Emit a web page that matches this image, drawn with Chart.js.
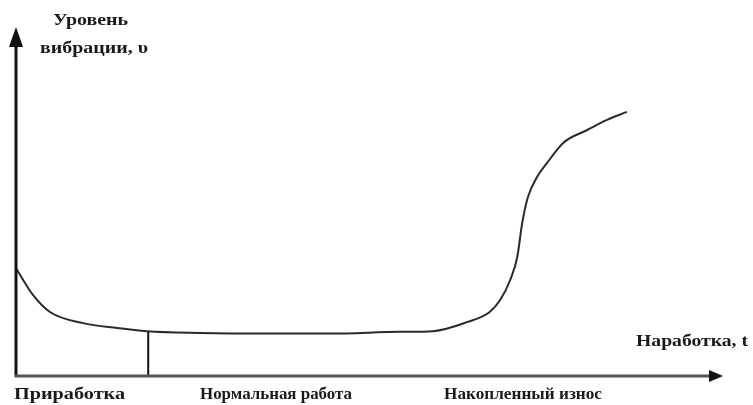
<!DOCTYPE html>
<html><head><meta charset="utf-8">
<script src="https://cdn.jsdelivr.net/npm/chart.js@4/dist/chart.umd.min.js"></script>
<style>html,body{margin:0;padding:0;background:#fff;}canvas{display:block;}</style>
</head><body>
<canvas id="c" width="753" height="405"></canvas>
<script>
// Operating time t (relative units) and vibration level v (relative units)
const timeValues = [0, 2.4, 4.8, 9.5, 14.3, 18.5, 26.0, 34.5, 44.4, 54.3, 59.0, 63.8, 67.0, 68.5, 69.9, 70.9, 71.6, 72.4, 73.7, 75.1, 77.4, 80.8, 83.6, 86.4];
const vibrationValues = [30.7, 23.0, 18.1, 14.9, 13.5, 12.6, 12.1, 11.9, 11.9, 12.4, 12.6, 15.2, 18.1, 21.6, 27.3, 33.9, 43.7, 51.1, 56.9, 60.9, 66.7, 70.4, 73.3, 75.6];
const runInEnd = 18.7;
const yAxisTitle = ["Уровень", "вибрации, υ"];
const xAxisTitle = "Наработка, t";
const phaseLabels = ["Приработка", "Нормальная работа", "Накопленный износ"];

const FONT = "bold 17px 'Liberation Serif', 'DejaVu Serif', serif";
function fitText(ctx, txt, x, yMid, w) {
  ctx.save();
  ctx.font = FONT;
  ctx.textBaseline = 'middle';
  ctx.textAlign = 'left';
  const m = ctx.measureText(txt).width;
  ctx.translate(x, yMid);
  ctx.scale(w / m, 1);
  ctx.fillStyle = '#1a1a1a';
  ctx.fillText(txt, 0, 0);
  ctx.restore();
}

const axesPlugin = {
  id: 'axesArrows',
  afterDraw(chart) {
    const ctx = chart.ctx;
    const a = chart.chartArea;
    const xs = chart.scales.x, ys = chart.scales.y;
    const x0 = xs.getPixelForValue(0), y0 = ys.getPixelForValue(0);
    ctx.save();
    ctx.strokeStyle = '#111';
    ctx.fillStyle = '#111';
    // y axis
    ctx.lineWidth = 3;
    ctx.beginPath(); ctx.moveTo(x0, y0 + 2); ctx.lineTo(x0, a.top + 14); ctx.stroke();
    ctx.beginPath(); ctx.moveTo(x0, a.top); ctx.lineTo(x0 - 7, a.top + 20); ctx.lineTo(x0 + 7, a.top + 20); ctx.closePath(); ctx.fill();
    // x axis
    ctx.strokeStyle = '#555';
    ctx.lineWidth = 3;
    ctx.beginPath(); ctx.moveTo(x0 - 1, y0 + 1); ctx.lineTo(a.right - 10, y0 + 1); ctx.stroke();
    ctx.fillStyle = '#111';
    ctx.beginPath(); ctx.moveTo(a.right, y0 + 1); ctx.lineTo(a.right - 14, y0 - 5); ctx.lineTo(a.right - 14, y0 + 7); ctx.closePath(); ctx.fill();
    ctx.restore();
    // texts
    fitText(ctx, yAxisTitle[0], 53, 21, 75);
    fitText(ctx, yAxisTitle[1], 40, 49, 108);
    fitText(ctx, xAxisTitle, 636, 342, 112);
    fitText(ctx, phaseLabels[0], 14, 395, 111);
    fitText(ctx, phaseLabels[1], 200, 395, 152);
    fitText(ctx, phaseLabels[2], 444, 395, 158);
  }
};

new Chart(document.getElementById('c'), {
  type: 'line',
  data: {
    datasets: [
      {
        data: timeValues.map((t, i) => ({x: t, y: vibrationValues[i]})),
        borderColor: '#2a2a2a', borderWidth: 2, pointRadius: 0,
        cubicInterpolationMode: 'monotone', fill: false
      },
      {
        data: [{x: runInEnd, y: 0}, {x: runInEnd, y: 12.6}],
        borderColor: '#111', borderWidth: 2, pointRadius: 0, fill: false
      }
    ]
  },
  options: {
    responsive: false,
    animation: false,
    layout: {padding: {left: 16, right: 30, top: 27, bottom: 30}},
    plugins: {legend: {display: false}, tooltip: {enabled: false}},
    scales: {
      x: {type: 'linear', min: 0, max: 100, display: false},
      y: {type: 'linear', min: 0, max: 100, display: false}
    }
  },
  plugins: [axesPlugin]
});
</script>
</body></html>
